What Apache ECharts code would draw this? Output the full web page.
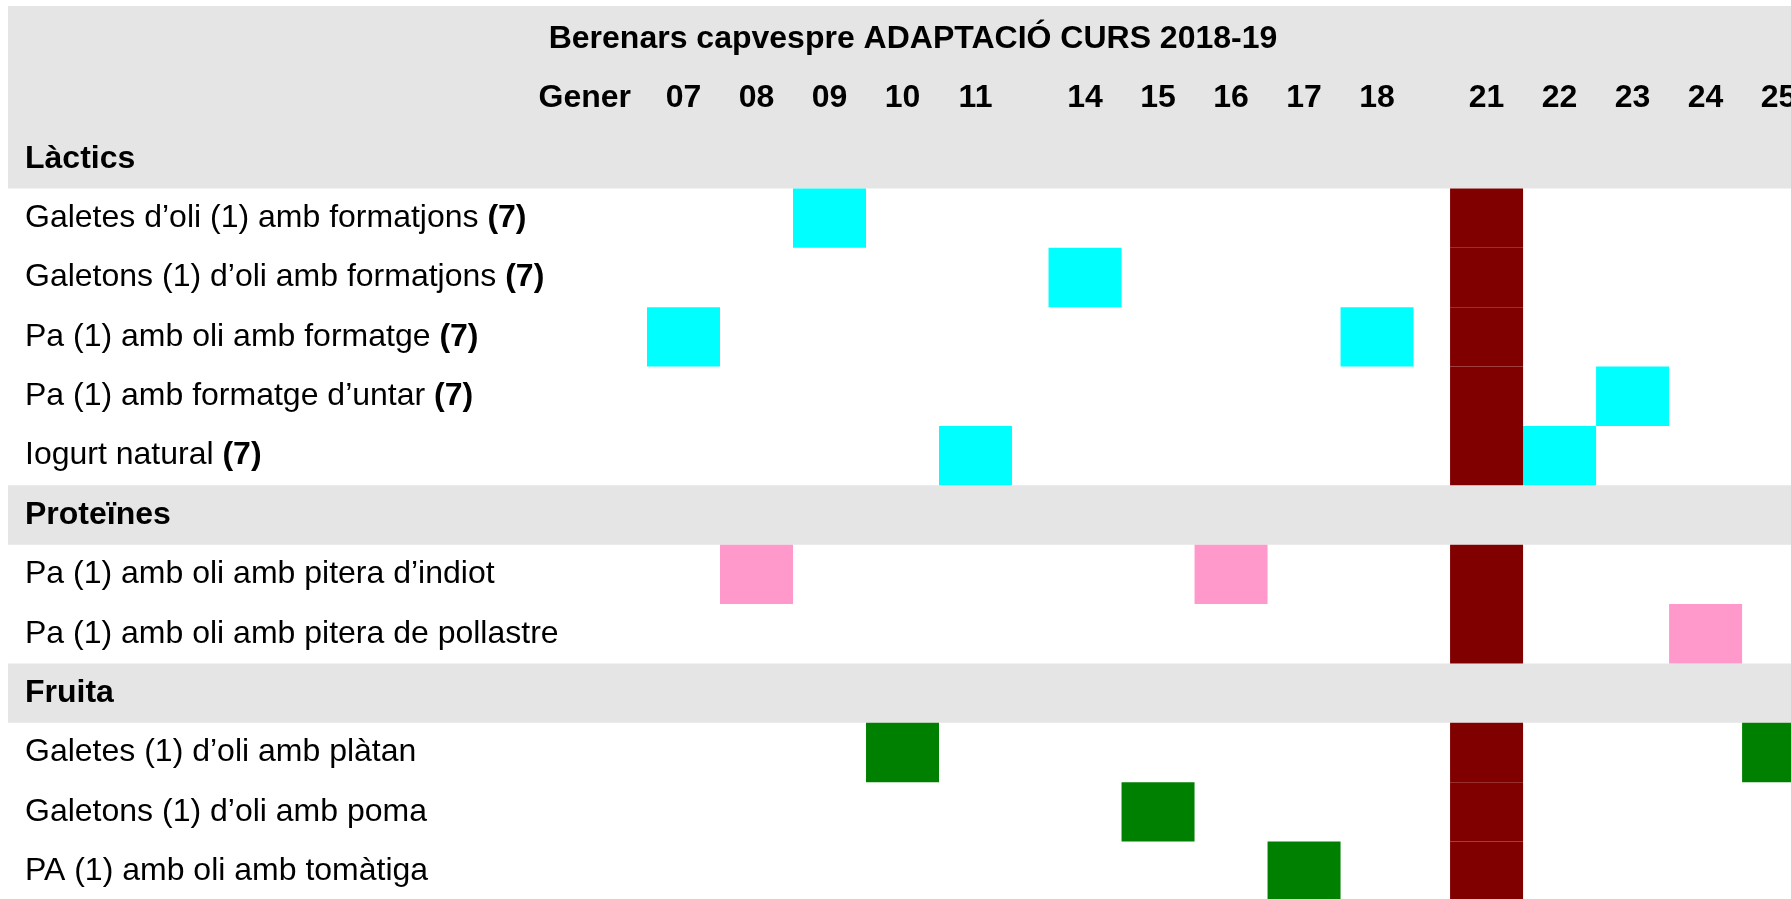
<!DOCTYPE html>
<html>
<head>
<meta charset="utf-8">
<title>Berenars capvespre</title>
<script src="https://cdn.jsdelivr.net/npm/echarts@6/dist/echarts.min.js"></script>
<style>
  html, body { margin: 0; padding: 0; background: #fff; }
  #chart { width: 1791px; height: 899px; }
</style>
</head>
<body>
<div id="chart"></div>
<script>
// dades del menú
const titleText = 'Berenars capvespre ADAPTACIÓ CURS 2018-19';
const monthName = 'Gener';
const days = ['07', '08', '09', '10', '11', '14', '15', '16', '17', '18', '21', '22', '23', '24', '25'];
const groupNames = ['Làctics', 'Proteïnes', 'Fruita'];

const lacticItems = [
  'Galetes d’oli (1) amb formatjons (7)',
  'Galetons (1) d’oli amb formatjons (7)',
  'Pa (1) amb oli amb formatge (7)',
  'Pa (1) amb formatge d’untar (7)',
  'Iogurt natural (7)'
];
const lacticDays = [['09'], ['14'], ['07', '18'], ['23'], ['11', '22']];

const proteinItems = [
  'Pa (1) amb oli amb pitera d’indiot',
  'Pa (1) amb oli amb pitera de pollastre'
];
const proteinDays = [['08', '16'], ['24']];

const fruitItems = [
  'Galetes (1) d’oli amb plàtan',
  'Galetons (1) d’oli amb poma',
  'PA (1) amb oli amb tomàtiga'
];
const fruitDays = [['10', '25'], ['15'], ['17']];

const holidayDays = ['21'];

const FONT = '"Liberation Sans", Arial, Helvetica, sans-serif';

// files de l'eix vertical
const rowLabels = [].concat(
  [groupNames[0]], lacticItems,
  [groupNames[1]], proteinItems,
  [groupNames[2]], fruitItems
);

// posició de cada dia: els caps de setmana ocupen mitja columna
function dayPos(d) {
  const n = parseInt(d, 10);
  const week = Math.floor((n - 7) / 7);
  return n - 7 - 1.5 * week;
}

function buildCells(items, itemDays) {
  const out = [];
  items.forEach((item, i) => {
    const row = rowLabels.indexOf(item);
    itemDays[i].forEach(d => out.push([dayPos(d), row]));
  });
  return out;
}

const lacticCells = buildCells(lacticItems, lacticDays);
const proteinCells = buildCells(proteinItems, proteinDays);
const fruitCells = buildCells(fruitItems, fruitDays);
const allItems = lacticItems.concat(proteinItems, fruitItems);
const holidayCells = buildCells(allItems, allItems.map(() => holidayDays));
const groupBands = groupNames.map(g => [0, rowLabels.indexOf(g)]);

// cel·la plena de la columna
function renderCell(params, api) {
  const c = api.coord([api.value(0), api.value(1)]);
  const s = api.size([1, 1]);
  return {
    type: 'rect',
    shape: { x: c[0] - s[0] / 2, y: c[1] - s[1] / 2, width: s[0], height: s[1] },
    style: { fill: api.visual('color') }
  };
}

// franja grisa de capçalera de grup, d'un costat a l'altre
function renderBand(params, api) {
  const c = api.coord([0, api.value(1)]);
  const h = api.size([1, 1])[1];
  return {
    type: 'rect',
    shape: { x: 8, y: c[1] - h / 2, width: api.getWidth() - 8, height: h },
    style: { fill: '#e5e5e5' }
  };
}

const chart = echarts.init(document.getElementById('chart'), null, { renderer: 'canvas' });

const option = {
  backgroundColor: '#ffffff',
  animation: false,
  textStyle: { fontFamily: FONT },
  title: {
    text: titleText,
    left: 908,
    top: 18,
    textAlign: 'center',
    textStyle: { fontFamily: FONT, fontSize: 32, fontWeight: 'bold', color: '#000' }
  },
  graphic: [
    {
      type: 'rect',
      z: -10,
      silent: true,
      shape: { x: 8, y: 6, width: 1783, height: 124 },
      style: { fill: '#e5e5e5' }
    }
  ],
  grid: { left: 647, right: 0, top: 129, height: 772, containLabel: false, outerBoundsMode: 'none' },
  xAxis: {
    type: 'value',
    position: 'top',
    offset: 31,
    min: -0.5,
    max: 15.17,
    interval: 0.5,
    name: monthName,
    nameLocation: 'start',
    nameGap: 16,
    nameTextStyle: { fontFamily: FONT, fontSize: 32, fontWeight: 'bold', color: '#000', verticalAlign: 'middle' },
    axisLine: { show: false },
    axisTick: { show: false },
    splitLine: { show: false },
    axisLabel: {
      margin: 0,
      verticalAlign: 'middle',
      fontFamily: FONT,
      fontSize: 32,
      fontWeight: 'bold',
      color: '#000',
      showMaxLabel: false,
      hideOverlap: false,
      formatter: v => {
        const d = days.find(dd => Math.abs(dayPos(dd) - v) < 1e-6);
        return d || '';
      }
    }
  },
  yAxis: {
    type: 'category',
    inverse: true,
    z: 10,
    data: rowLabels,
    axisLine: { show: false },
    axisTick: { show: false },
    splitLine: { show: false },
    axisLabel: {
      align: 'left',
      margin: 622,
      fontFamily: FONT,
      fontSize: 32,
      color: '#000',
      formatter: v => {
        if (groupNames.indexOf(v) >= 0) return '{h|' + v + '}';
        return v.replace('(7)', '{b|(7)}');
      },
      rich: {
        h: { fontFamily: FONT, fontSize: 32, fontWeight: 'bold', color: '#000' },
        b: { fontFamily: FONT, fontSize: 32, fontWeight: 'bold', color: '#000' }
      }
    }
  },
  series: [
    {
      name: 'grups',
      type: 'custom',
      z: 1,
      silent: true,
      renderItem: renderBand,
      encode: { x: 0, y: 1 },
      data: groupBands
    },
    {
      name: 'Làctics',
      type: 'custom',
      z: 2,
      renderItem: renderCell,
      itemStyle: { color: '#00ffff' },
      encode: { x: 0, y: 1 },
      data: lacticCells
    },
    {
      name: 'Proteïnes',
      type: 'custom',
      z: 2,
      renderItem: renderCell,
      itemStyle: { color: '#ff99cc' },
      encode: { x: 0, y: 1 },
      data: proteinCells
    },
    {
      name: 'Fruita',
      type: 'custom',
      z: 2,
      renderItem: renderCell,
      itemStyle: { color: '#008000' },
      encode: { x: 0, y: 1 },
      data: fruitCells
    },
    {
      name: 'Festiu',
      type: 'custom',
      z: 2,
      renderItem: renderCell,
      itemStyle: { color: '#800000' },
      encode: { x: 0, y: 1 },
      data: holidayCells
    }
  ]
};

chart.setOption(option);
</script>
</body>
</html>
